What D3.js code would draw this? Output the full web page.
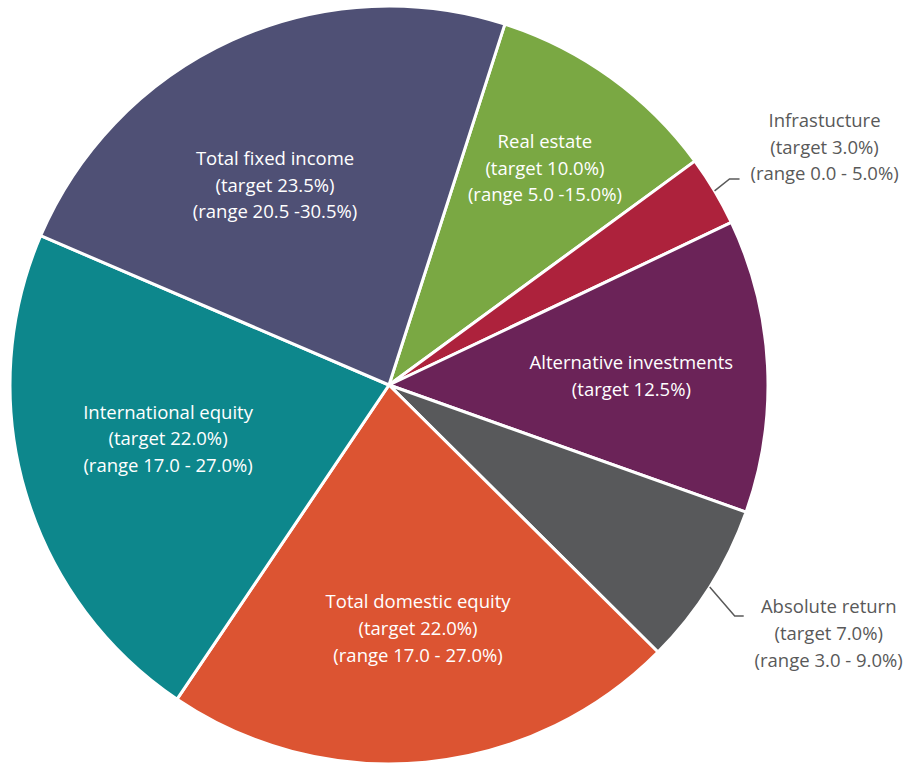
<!DOCTYPE html>
<html>
<head>
<meta charset="utf-8">
<script src="https://cdn.jsdelivr.net/npm/d3@7"></script>
<style>
  body { margin: 0; background: #fff; }
  text { font-family: "Open Sans", Lato, sans-serif; }
</style>
</head>
<body>
<div id="chart-area"></div>
<script>
// Asset allocation pie
var categories = ["Real estate", "Infrastucture", "Alternative investments", "Absolute return",
                  "Total domestic equity", "International equity", "Total fixed income"];
var targets = [10.0, 3.0, 12.5, 7.0, 22.0, 22.0, 23.5];
var ranges = ["(range 5.0 -15.0%)", "(range 0.0 - 5.0%)", null, "(range 3.0 - 9.0%)",
              "(range 17.0 - 27.0%)", "(range 17.0 - 27.0%)", "(range 20.5 -30.5%)"];
var colors = ["#7aa843", "#ad223c", "#6b2358", "#58595b", "#dc5432", "#0d878c", "#4f5075"];

// label layout: inside labels placed by polar position (radius factor, degrees clockwise from top)
var outside = { "Infrastucture": true, "Absolute return": true };
var labelPos = {
  "Real estate": [0.705, 35.7],
  "Alternative investments": [0.64, 87.9],
  "Total domestic equity": [0.647, 173.2],
  "International equity": [0.6, 256.3],
  "Total fixed income": [0.607, 330.3]
};

var width = 907, height = 766;
var radius = 379;
var cx = 389, cy = 385;

var svg = d3.select("#chart-area")
  .append("svg")
    .attr("width", width)
    .attr("height", height);

var g = svg.append("g")
  .attr("transform", "translate(" + cx + "," + cy + ")");

var data = categories.map(function(c, i){
  return { name: c, target: targets[i], range: ranges[i], color: colors[i] };
});

var start = 17.8 * Math.PI / 180;
var pie = d3.pie()
  .sort(null)
  .value(function(d){ return d.target; })
  .startAngle(start)
  .endAngle(start + 2 * Math.PI);

var arc = d3.arc().innerRadius(0).outerRadius(radius);

var arcs = pie(data);

g.selectAll("path.slice")
  .data(arcs)
  .enter()
  .append("path")
    .attr("class", "slice")
    .attr("d", arc)
    .attr("fill", function(d){ return d.data.color; })
    .attr("stroke", "#fff")
    .attr("stroke-width", 3)
    .attr("stroke-linejoin", "round");

function lines(d){
  var l = [d.name, "(target " + d.target.toFixed(1) + "%)"];
  if (d.range) l.push(d.range);
  return l;
}

var lineH = 26.8;
var fontSize = "18.5px";

// inside labels
arcs.filter(function(d){ return !outside[d.data.name]; }).forEach(function(d){
  var p = labelPos[d.data.name];
  var a = p[1] * Math.PI / 180;
  var r = radius * p[0];
  var x = r * Math.sin(a), y = -r * Math.cos(a);
  var ls = lines(d.data);
  var t = g.append("text")
    .attr("text-anchor", "middle")
    .attr("fill", "#fff")
    .attr("font-size", fontSize);
  ls.forEach(function(s, i){
    t.append("tspan")
      .attr("x", x)
      .attr("y", y + (i - (ls.length - 1) / 2) * lineH)
      .attr("dy", "0.35em")
      .text(s);
  });
});

// outside labels with leader lines
arcs.filter(function(d){ return outside[d.data.name]; }).forEach(function(d){
  var a = (d.startAngle + d.endAngle) / 2;
  var p0 = [radius * Math.sin(a), -radius * Math.cos(a)];
  var up = Math.cos(a) > 0;
  var p1 = [p0[0] + (up ? 15 : 25), p0[1] + (up ? -12 : 29)];
  var p2 = [p1[0] + (up ? 10 : 9), p1[1]];
  g.append("polyline")
    .attr("points", [p0, p1, p2].map(function(p){ return p.join(","); }).join(" "))
    .attr("fill", "none")
    .attr("stroke", "#595959")
    .attr("stroke-width", 1.5);
  var ls = lines(d.data);
  // infrastructure text sits above its leader, absolute return starts at its leader
  var tx = p2[0] + 85;
  var ty0 = up ? p1[1] - 5 - (ls.length - 1) * lineH : p1[1] - 9;
  var t = g.append("text")
    .attr("text-anchor", "middle")
    .attr("fill", "#595959")
    .attr("font-size", fontSize);
  ls.forEach(function(s, i){
    t.append("tspan")
      .attr("x", tx)
      .attr("y", ty0 + i * lineH)
      .attr("dy", "0.35em")
      .text(s);
  });
});
</script>
</body>
</html>
